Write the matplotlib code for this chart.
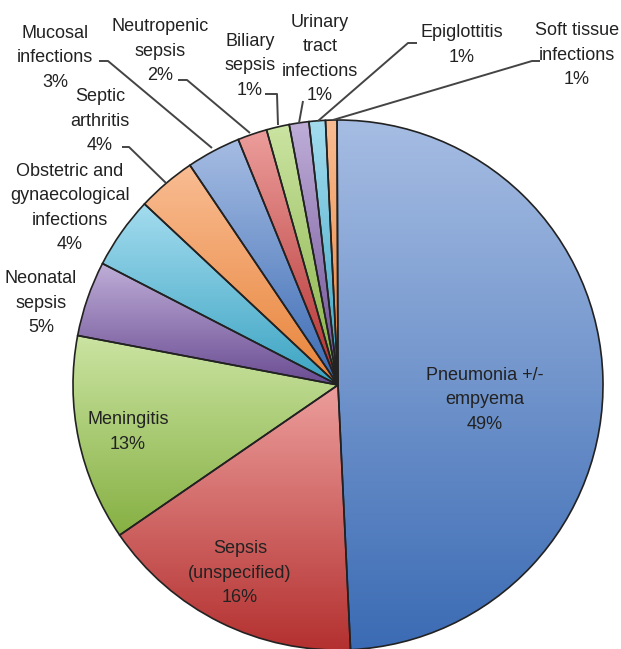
import numpy as np
import matplotlib.pyplot as plt
from matplotlib.colors import to_rgba

W, H = 621, 649

categories = ["Pneumonia +/-\nempyema", "Sepsis\n(unspecified)", "Meningitis",
              "Neonatal\nsepsis", "Obstetric and\ngynaecological\ninfections",
              "Septic\narthritis", "Mucosal\ninfections", "Neutropenic\nsepsis",
              "Biliary\nsepsis", "Urinary\ntract\ninfections", "Epiglottitis",
              "Soft tissue\ninfections"]
shares = [49.4, 16.2, 12.6, 4.6, 4.4, 3.6, 3.3, 1.8, 1.4, 1.2, 1.0, 0.7]
pct_labels = ["49%", "16%", "13%", "5%", "4%", "4%", "3%", "2%", "1%", "1%", "1%", "1%"]

# (light top, dark bottom) gradient per slice, Office-style palette
blue = ("#a6bde3", "#3b6bb4")
red = ("#ec9e9c", "#b3302f")
green = ("#cbe4a2", "#86b043")
purple = ("#bfaed8", "#6a4c92")
aqua = ("#a4dcef", "#3aa3c2")
orange = ("#f9bc92", "#e8843a")
grads = [blue, red, green, purple, aqua, orange,
         blue, red, green, purple, aqua, orange]

# label anchor (image px, text centre) and leader line points (image px)
label_pos = [(485, 400), (240, 573), (128, 432), (41, 303), (70, 208), (100, 121),
             (55, 58), (160, 51), (250, 66), (320, 59), (462, 45), (577, 55)]
leaders = [None, None, None, None, None,
           [(122, 147), (129, 147), (166, 183)],
           [(99, 61), (108, 61), (212, 148)],
           [(178, 80), (187, 80), (250, 133)],
           [(265, 94), (277, 94), (278, 125)],
           [(303, 101), (299, 123)],
           [(417, 43), (408, 43), (318, 121)],
           [(540, 61), (532, 61), (333, 120)]]

cx, cy, r = 338, 385, 265


def main():
    fig = plt.figure(figsize=(W / 100, H / 100), dpi=100)
    ax = fig.add_axes([0, 0, 1, 1])

    wedges, _ = ax.pie(shares, startangle=90.2, counterclock=False,
                       center=(cx, H - cy), radius=r, frame=True,
                       wedgeprops=dict(edgecolor="#222222", linewidth=1.2))

    # vertical gradient fill clipped to each wedge
    for w, (light, dark) in zip(wedges, grads):
        v = w.get_path().vertices
        x0, x1 = v[:, 0].min(), v[:, 0].max()
        y0, y1 = v[:, 1].min(), v[:, 1].max()
        c0, c1 = np.array(to_rgba(dark)), np.array(to_rgba(light))
        t = np.linspace(0, 1, 256)[:, None]
        img = (c0 + (c1 - c0) * t)[:, None, :]
        w.set_facecolor("none")
        im = ax.imshow(img, extent=(x0, x1, y0, y1), origin="lower",
                       aspect="auto", interpolation="bilinear", zorder=0.5)
        im.set_clip_path(w)
        w.set_zorder(1)

    for name, pct, (lx, ly) in zip(categories, pct_labels, label_pos):
        ax.text(lx, H - ly, name + "\n" + pct, ha="center", va="center",
                fontsize=13, color="#222222", family="Liberation Sans",
                linespacing=1.55, zorder=3)

    for pts in leaders:
        if pts is None:
            continue
        xs = [p[0] for p in pts]
        ys = [H - p[1] for p in pts]
        ax.plot(xs, ys, color="#444444", lw=1.4, zorder=2,
                solid_capstyle="butt")

    ax.set_xlim(0, W)
    ax.set_ylim(0, H)
    ax.set_aspect("auto")
    ax.axis("off")
    fig.savefig("out.png", dpi=100, facecolor="white")


if __name__ == "__main__":
    main()
